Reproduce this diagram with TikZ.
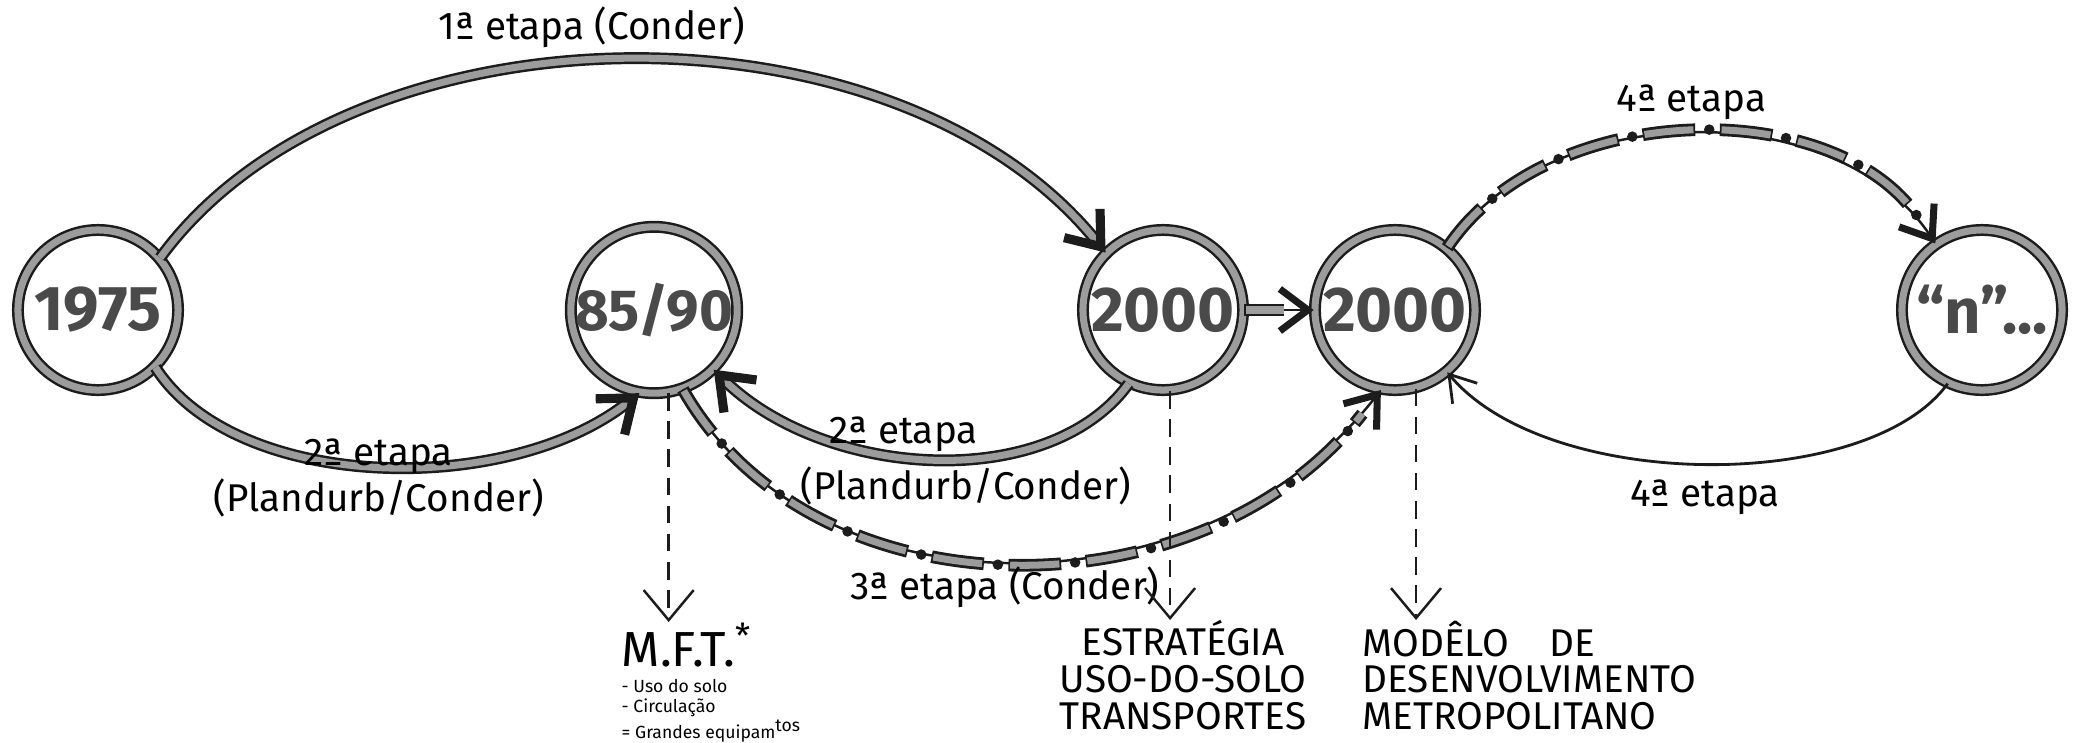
\documentclass[tikz,border=0pt]{standalone}
\usepackage{fontspec}
\setmainfont{Fira Sans}
\usepackage{xcolor}
\usepackage{tikz}
\usetikzlibrary{
  arrows.meta
}
\definecolor{InkBlack}{HTML}{1C1C1C}
\definecolor{PencilGray}{HTML}{9C9C9C}
\definecolor{NumberGray}{HTML}{4A4A4A}
\tikzset{
  stage/.style={
    circle,
    draw=InkBlack,
    line width=0.7pt,
    double=PencilGray,
    double distance=2pt,
    minimum size=1.6cm,
    inner sep=0pt,
    text=NumberGray,
    font=\fontsize{18}{18}\selectfont\bfseries
  },
  heavy/.style={
    draw=InkBlack,
    line width=0.7pt,
    double=PencilGray,
    double distance=2pt,
    -{Straight Barb[length=3mm,width=4.6mm,line width=2.6pt]}
  },
  beaded/.style={
    draw=InkBlack,
    line width=0.7pt,
    -{Straight Barb[length=2.8mm,width=4.2mm,line width=2pt]},
    postaction={draw=InkBlack,line width=3.6pt,arrows=-,
      dash pattern=on 15pt off 7pt,shorten >=3mm},
    postaction={draw=PencilGray,line width=2pt,arrows=-,
      dash pattern=on 14pt off 8pt,dash phase=21.5pt,shorten >=3mm},
    postaction={draw=InkBlack,line width=3pt,line cap=round,arrows=-,
      dash pattern=on 0pt off 22pt,dash phase=3pt,shorten >=3mm}
  },
  fine/.style={
    draw=InkBlack,
    line width=0.8pt,
    -{Straight Barb[length=2.5mm,width=3.2mm]}
  },
  pointer/.style={
    draw=InkBlack,
    line width=0.7pt,
    dash pattern=on 5pt off 3pt,
    -{Straight Barb[length=3mm,width=5mm]}
  },
  etapa/.style={
    font=\fontsize{11}{11}\selectfont
  },
  caption/.style={
    inner sep=0pt,
    font=\fontsize{11}{10.5}\selectfont
  }
}

\begin{document}
\begin{tikzpicture}[x=0.01cm,y=-0.01cm]

  \useasboundingbox (0,0) rectangle (2084,742);

  % stages
  \node[stage] at (98,310) (c1975) {1975};
  \node[stage,font=\fontsize{16.5}{16.5}\selectfont\bfseries] at (654,310) (c8590) {85/90};
  \node[stage] at (1163,310) (c2000a) {2000};
  \node[stage] at (1395,310) (c2000b) {2000};
  \node[stage] at (1982,310) (cn) {``n''...};

  % etapas
  \draw[heavy]
  (c1975.40) .. controls +(190,-260) and +(-210,-262) ..
  node[etapa,above,pos=0.47] {1ª etapa (Conder)}
  (c2000a.135);

  \draw[heavy]
  (c1975.-45) .. controls +(80,125) and +(-130,105) ..
  node[etapa,above,pos=0.5,inner sep=0pt,yshift=-2.5pt] {2ª etapa}
  node[etapa,below=3pt,pos=0.5,inner sep=0pt] {(Plandurb/Conder)}
  (c8590.-100);

  \draw[heavy]
  (c2000a.-115) .. controls +(-80,110) and +(110,110) ..
  node[etapa,above,pos=0.56,inner sep=1pt] {2ª etapa}
  node[etapa,below=2pt,pos=0.43,inner sep=0pt] {(Plandurb/Conder)}
  (c8590.-45);

  \draw[beaded]
  (c8590.-70) .. controls +(130,230) and +(-180,230) ..
  node[etapa,below=1pt,pos=0.49,inner sep=0pt] {3ª etapa (Conder)}
  (c2000b.-100);

  \draw[beaded] (c2000a.east) -- (c2000b.west);

  \draw[beaded]
  (c2000b.50) .. controls +(100,-150) and +(-100,-150) ..
  node[etapa,above,pos=0.5] {4ª etapa}
  (cn.125);

  \draw[fine]
  (cn.-115) .. controls +(-80,110) and +(100,120) ..
  node[etapa,below=4pt,pos=0.5,inner sep=0pt] {4ª etapa}
  (c2000b.-50);

  % results
  \node[
    anchor=north west,
    inner sep=0pt,
    font=\fontsize{14}{14}\selectfont
  ] at (621,622) (mft) {M.F.T.\textsuperscript{*}};

  \node[
    anchor=north west,
    inner sep=0pt,
    align=left,
    font=\fontsize{5}{5.7}\selectfont
  ] at ([yshift=-3pt]mft.south west) (mftlist) {
    - Uso do solo\\
    - Circulação\\
    = Grandes equipam\textsuperscript{tos}
  };

  \node[
    caption,
    anchor=north,
    align=center
  ] at (1183,620) (estrategia) {
    ESTRATÉGIA\\
    USO-DO-SOLO\\
    TRANSPORTES
  };

  \node[
    caption,
    anchor=north west,
    align=left
  ] at (1362,620) (modelo) {
    MODÊLO\hspace{4mm}DE\\
    DESENVOLVIMENTO\\
    METROPOLITANO
  };

  \draw[pointer] (c8590.-80) -- (c8590.-80 |- mft.north);
  \draw[pointer] (c2000a.-85) -- (c2000a.-85 |- estrategia.north);
  \draw[pointer] (c2000b.-75) -- (c2000b.-75 |- modelo.north);

\end{tikzpicture}
\end{document}
